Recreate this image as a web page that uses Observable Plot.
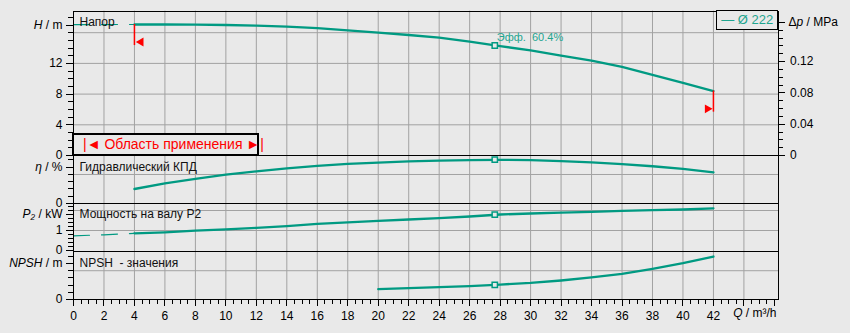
<!DOCTYPE html>
<html>
<head>
<meta charset="utf-8">
<script src="https://cdn.jsdelivr.net/npm/d3@7"></script>
<script src="https://cdn.jsdelivr.net/npm/@observablehq/plot@0.6"></script>
<style>
  html, body { margin: 0; padding: 0; background: #e9e9e9; }
  #chart { position: relative; width: 850px; height: 333px; overflow: hidden;
           font-family: "Liberation Sans", Arial, sans-serif; }
  #chart svg { position: absolute; left: 0; top: 0; }
  .legend { position: absolute; box-sizing: border-box; border: 1.3px solid #000; background: #e9e9e9;
            color: #1fa58f; font-size: 13px; text-align: center; white-space: pre; }
  .range { position: absolute; box-sizing: border-box; border: 2px solid #000; background: #e9e9e9;
           color: #ff0000; font-size: 14px; text-align: center; white-space: pre; }
</style>
</head>
<body>
<div id="chart"></div>
<script>
// ---------- data ----------
const qH   = [0, 2, 4, 6, 8, 10, 12, 14, 16, 18, 20, 22, 24, 26, 28, 30, 32, 34, 36, 38, 40, 42];
const head = [17.05, 17.06, 17.07, 17.07, 17.06, 17.0, 16.92, 16.8, 16.6, 16.3, 16.0, 15.7, 15.35, 14.85, 14.25, 13.7, 13.0, 12.35, 11.55, 10.5, 9.45, 8.4];

const qEta = [4, 6, 8, 10, 12, 14, 16, 18, 20, 22, 24, 26, 28, 30, 32, 34, 36, 38, 40, 42];
const eta  = [20, 27.8, 33.9, 39.9, 44.4, 48.5, 52, 54.7, 56.5, 58, 59.1, 59.9, 60.3, 59.8, 58.4, 56.8, 54.4, 51.4, 47.8, 43];

const qP   = [0, 2, 4, 6, 8, 10, 12, 14, 16, 18, 20, 22, 24, 26, 28, 30, 32, 34, 36, 38, 40, 42];
const p2   = [0.735, 0.785, 0.86, 0.91, 0.99, 1.06, 1.13, 1.22, 1.33, 1.41, 1.48, 1.55, 1.62, 1.7, 1.8, 1.85, 1.89, 1.93, 1.98, 2.02, 2.05, 2.11];

const qN   = [20, 22, 24, 26, 28, 30, 32, 34, 36, 38, 40, 42];
const npsh = [1.43, 1.57, 1.71, 1.85, 2.08, 2.31, 2.64, 3.06, 3.56, 4.26, 5.05, 5.97];

const duty = {q: 27.65, h: 14.33, eta: 60.4, p2: 1.79, npsh: 2.03};
const rangeStart = 4, rangeEnd = 42;

// ticks & labels
const xMinorTicks = d3.range(0, 46.01, 0.5);
const xMajorTicks = d3.range(0, 46.01, 2);
const xLabelTicks = d3.range(0, 42.01, 2);
const xGridTicks  = d3.range(2, 44.01, 2);

const hMinor = d3.range(0, 18.01, 1), hLabels = [0, 4, 8, 12], hGrid = [4, 8, 12, 16], hUnitAt = 17;
const dpMinor = d3.range(0, 0.1601, 0.01), dpLabels = [0, 0.04, 0.08, 0.12], dpUnitAt = 0.17;
const etaMinor = d3.range(0, 60.01, 10), etaLabels = [0], etaGrid = [40], etaUnitAt = 50;
const pMinor = d3.range(0, 2.21, 0.2), pLabels = [0, 1], pGrid = [1, 2], pUnitAt = 1.8;
const nMinor = d3.range(0, 6.01, 1), nLabels = [0], nGrid = [4], nUnitAt = 5;

const texts = {
  head: "Напор", eta: "Гидравлический КПД", p2: "Мощность на валу P2", npsh: "NPSH  - значения",
  eff: "Эфф.  60.4%", legend: "— Ø 222", range: "|◄ Область применения ►|"
};
const units = {
  head: ["H", " / m"], dp: ["Δ", "p", " / MPa"], eta: ["η", " / %"], p2: ["P₂", " / kW"],
  npsh: ["NPSH", " / m"], q: ["Q", " / m³/h"]
};

// ---------- style ----------
const teal = "#009a82", tealText = "#1fa58f", gridColor = "#a2a2a2", bg = "#e9e9e9";
const W = 850, HT = 333, ML = 73, MR = 72, xMax = 46.27;
const MPA_PER_M = 0.00981;
const crisp = {shapeRendering: "crispEdges"};

const rows = (qs, vs) => qs.map((q, i) => ({q, v: vs[i]}));
const Hd = rows(qH, head), Ed = rows(qEta, eta), Pd = rows(qP, p2), Nd = rows(qN, npsh);

function curve(data) {
  return [
    Plot.line(data.filter(d => d.q <= rangeStart), {x: "q", y: "v", stroke: teal, strokeWidth: 1.2, strokeDasharray: "16,12"}),
    Plot.line(data.filter(d => d.q >= rangeStart), {x: "q", y: "v", stroke: teal, strokeWidth: 2.3})
  ];
}
function leftAxis(minor, labels, unitAt) {
  return [
    Plot.axisY(minor, {anchor: "left", tickSize: 4.7, tickFormat: () => "", label: null, stroke: "#000", ...crisp}),
    Plot.axisY(labels, {anchor: "left", tickSize: 7, tickPadding: 4, label: null, fontSize: 12, stroke: "#000", fill: "#000", ...crisp}),
    Plot.axisY([unitAt], {anchor: "left", tickSize: 7, tickFormat: () => "", label: null, stroke: "#000", ...crisp})
  ];
}
function unitText(cls, parts, yAt, side) {
  return Plot.text([parts.join("")], {frameAnchor: side === "right" ? "right" : "left", y: yAt, dx: side === "right" ? 10 : -11,
    textAnchor: side === "right" ? "start" : "end", className: cls, fontSize: 12, fill: "#000"});
}
function panelText(label, yAt, dy = 0) {
  return Plot.text([label], {frameAnchor: "left", y: yAt, dx: 6, dy, textAnchor: "start", fontSize: 12, fill: "#111"});
}
function dutyDot(v) {
  return Plot.dot([duty], {x: "q", y: v, symbol: "square", r: 3, stroke: teal, strokeWidth: 1.5, fill: bg});
}
function mk(top, bottom, yDomain, marks) {
  return Plot.plot({
    width: W, height: HT, marginLeft: ML, marginRight: MR, marginTop: top, marginBottom: HT - bottom,
    x: {domain: [0, xMax], axis: null},
    y: {domain: yDomain, axis: null, label: null},
    style: {background: "transparent", overflow: "visible", fontFamily: "'Liberation Sans', Arial, sans-serif", fontSize: "12px", color: "#000"},
    marks
  });
}
const gx = () => Plot.ruleX(xGridTicks, {stroke: gridColor, strokeWidth: 1});
const gy = t => Plot.ruleY(t, {stroke: gridColor, strokeWidth: 1});
const frame = () => Plot.frame({stroke: "#000", strokeWidth: 1, ...crisp});

const startPt = Hd.find(d => d.q === rangeStart), endPt = Hd.find(d => d.q === rangeEnd);

// ---------- head panel ----------
const pHead = mk(10.7, 155, [0, 18.8], [
  gx(), gy(hGrid),
  ...curve(Hd),
  Plot.ruleX([startPt, endPt], {x: "q", y1: "v", y2: d => d.v - 2.75, stroke: "#ff0000", strokeWidth: 1.5}),
  Plot.dot([startPt], {x: "q", y: "v", symbol: "triangle", rotate: -90, r: 3.3, fill: "#ff0000", stroke: "none", dx: 6.5, dy: 17.5}),
  Plot.dot([endPt], {x: "q", y: "v", symbol: "triangle", rotate: 90, r: 3.3, fill: "#ff0000", stroke: "none", dx: -6, dy: 17.8}),
  dutyDot("h"),
  Plot.text([duty], {x: "q", y: "h", text: () => texts.eff, dx: 2, dy: -8, textAnchor: "start", fontSize: 11, fill: tealText}),
  frame(),
  ...leftAxis(hMinor, hLabels, hUnitAt),
  unitText("u-head", units.head, hUnitAt, "left"),
  panelText(texts.head, hUnitAt, -3),
  Plot.axisY(dpMinor.map(v => v / MPA_PER_M), {anchor: "right", tickSize: 3.5, tickFormat: () => "", label: null, stroke: "#000", ...crisp}),
  Plot.axisY(dpLabels.map(v => v / MPA_PER_M), {anchor: "right", tickSize: 5.5, tickPadding: 6, label: null, fontSize: 12, stroke: "#000", fill: "#000",
    tickFormat: d => d3.format(".2~f")(d * MPA_PER_M), ...crisp}),
  Plot.axisY([dpUnitAt / MPA_PER_M], {anchor: "right", tickSize: 5.5, tickFormat: () => "", label: null, stroke: "#000", ...crisp}),
  unitText("u-dp", units.dp, dpUnitAt / MPA_PER_M, "right")
]);

// ---------- efficiency panel ----------
const pEta = mk(155, 203, [0, 66.2], [
  gx(), gy(etaGrid),
  ...curve(Ed),
  dutyDot("eta"),
  frame(),
  ...leftAxis(etaMinor, etaLabels, etaUnitAt),
  unitText("u-eta", units.eta, etaUnitAt, "left"),
  panelText(texts.eta, etaUnitAt)
]);

// ---------- power panel ----------
const pP = mk(203.3, 251, [-0.05, 2.335], [
  gx(), gy(pGrid),
  ...curve(Pd),
  dutyDot("p2"),
  frame(),
  ...leftAxis(pMinor, pLabels, pUnitAt),
  unitText("u-p2", units.p2, pUnitAt, "left"),
  panelText(texts.p2, pUnitAt)
]);

// ---------- NPSH panel ----------
const pN = mk(251, 299, [0, 6.67], [
  gx(), gy(nGrid),
  ...curve(Nd),
  dutyDot("npsh"),
  frame(),
  ...leftAxis(nMinor, nLabels, nUnitAt),
  unitText("u-npsh", units.npsh, nUnitAt, "left"),
  panelText(texts.npsh, nUnitAt),
  Plot.axisX(xMinorTicks, {anchor: "bottom", tickSize: 5, tickFormat: () => "", label: null, stroke: "#000", ...crisp}),
  Plot.axisX(xMajorTicks, {anchor: "bottom", tickSize: 7, tickFormat: () => "", label: null, stroke: "#000", ...crisp}),
  Plot.axisX(xLabelTicks, {anchor: "bottom", tickSize: 7, tickPadding: 5, label: null, fontSize: 12, stroke: "#000", fill: "#000", ...crisp}),
  Plot.text([units.q.join("")], {frameAnchor: "bottom-right", dx: -2, dy: 17, textAnchor: "end", className: "u-q", fontSize: 12, fill: "#000"})
]);

const chart = document.getElementById("chart");
[pHead, pEta, pP, pN].forEach(p => chart.appendChild(p));

// rich unit labels (italic symbols)
function rich(cls, parts, italicIdx) {
  chart.querySelectorAll("." + cls + " text").forEach(t => {
    const s = d3.select(t); s.text(null);
    parts.forEach((p, i) => s.append("tspan").attr("font-style", italicIdx.includes(i) ? "italic" : null).text(p));
  });
}
rich("u-head", units.head, [0]);
rich("u-dp", units.dp, [1]);
rich("u-eta", units.eta, [0]);
rich("u-p2", units.p2, [0]);
rich("u-npsh", units.npsh, [0]);
rich("u-q", units.q, [0]);

// legend box (top right) and application-range box
const xs = pHead.scale("x"), ys = pHead.scale("y");
const leg = document.createElement("div");
leg.className = "legend";
leg.textContent = texts.legend;
const legRight = xs.apply(xMax), legTop = ys.apply(18.8);
Object.assign(leg.style, {left: (legRight - 62) + "px", top: (legTop - 0.3) + "px", width: "62.3px", height: "19.5px", lineHeight: "17px"});
chart.appendChild(leg);

const rg = document.createElement("div");
rg.className = "range";
rg.textContent = texts.range;
const rgLeft = xs.apply(0), rgBottom = ys.apply(0);
Object.assign(rg.style, {left: (rgLeft - 1) + "px", top: (rgBottom - 22) + "px", width: "186.5px", height: "23px", lineHeight: "19px", paddingLeft: "9px"});
chart.appendChild(rg);
</script>
</body>
</html>
